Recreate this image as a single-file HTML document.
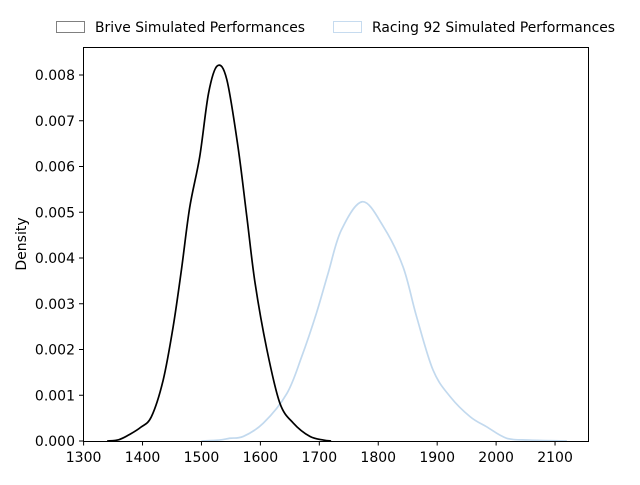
<!DOCTYPE html>
<html><head><meta charset="utf-8"><style>
body{margin:0;background:#fff;font-family:"Liberation Sans","DejaVu Sans",sans-serif;}
svg text{font-family:"DejaVu Sans","Liberation Sans",sans-serif;font-size:14px;fill:#000;}
</style></head><body>
<svg id="chart" width="640" height="480" viewBox="0 0 640 480">
<g id="legend">
<g>
<rect x="56.5" y="21.5" width="28" height="11" fill="#fff" stroke="#808080"/>
<text x="95" y="32" textLength="210" lengthAdjust="spacingAndGlyphs">Brive Simulated Performances</text></g>
<g>
<rect x="333.5" y="21.5" width="28" height="11" fill="#fff" stroke="#c6dbef"/>
<text x="372" y="32" textLength="243" lengthAdjust="spacingAndGlyphs">Racing 92 Simulated Performances</text></g>
</g>
<g id="plot"></g>
<rect x="83.5" y="47.5" width="505" height="394" fill="none" stroke="#000"/>
<text transform="translate(26,244) rotate(-90)" text-anchor="middle">Density</text>
</svg>
<script>
const xTicks=[1300,1400,1500,1600,1700,1800,1900,2000,2100];
const yTicks=[0,0.001,0.002,0.003,0.004,0.005,0.006,0.007,0.008];
const yTickLabels=["0.000","0.001","0.002","0.003","0.004","0.005","0.006","0.007","0.008"];
const briveX=[1340,1360,1379,1397,1415,1435,1452,1466,1480,1497,1512,1527,1543,1562,1577,1591,1611,1633,1656,1684,1707,1720];
const briveY=[0,0.00003,0.00015,0.0003,0.00053,0.00133,0.0025,0.00374,0.0051,0.00621,0.0076,0.0082,0.0079,0.00643,0.0049,0.00345,0.002,0.00083,0.00039,0.0001,0.00002,0];
const racingX=[1500,1530,1548,1571,1605,1645,1670,1695,1715,1737,1773,1809,1842,1865,1893,1922,1956,1984,2018,2057,2120];
const racingY=[0,0.00002,0.00006,0.0001,0.00039,0.00104,0.00184,0.00279,0.00367,0.0046,0.00523,0.00468,0.00381,0.00272,0.00155,0.00097,0.00053,0.00031,0.00006,0.00002,0];
const X=v=>83.6+(v-1300)*0.5893;
const Y=v=>441-v*45750;
const NS="http://www.w3.org/2000/svg";
const g=document.getElementById('plot');
function mk(t,a){const e=document.createElementNS(NS,t);for(const k in a)e.setAttribute(k,a[k]);g.appendChild(e);return e;}
function smooth(xs,ys){let p=xs.map((x,i)=>[X(x),Y(ys[i])]);let d="M"+p[0][0]+","+p[0][1];
for(let i=0;i<p.length-1;i++){const p0=p[i-1]||p[i],p1=p[i],p2=p[i+1],p3=p[i+2]||p2;
d+=" C"+(p1[0]+(p2[0]-p0[0])/6)+","+(p1[1]+(p2[1]-p0[1])/6)+" "+(p2[0]-(p3[0]-p1[0])/6)+","+(p2[1]-(p3[1]-p1[1])/6)+" "+p2[0]+","+p2[1];}return d;}
xTicks.forEach(v=>{const l=mk('line',{x1:X(v),x2:X(v),y1:441,y2:445.5,stroke:'#000'});

const t=mk('text',{x:X(v),y:462,'text-anchor':'middle'});t.textContent=v;
});
yTicks.forEach((v,i)=>{const l=mk('line',{x1:79,x2:83.5,y1:Y(v),y2:Y(v),stroke:'#000'});

const t=mk('text',{x:75,y:Y(v)+5,'text-anchor':'end'});t.textContent=yTickLabels[i];
});
const r=mk('path',{d:smooth(racingX,racingY),fill:'none',stroke:'#c2d9ee',"stroke-width":1.7});

const b=mk('path',{d:smooth(briveX,briveY),fill:'none',stroke:'#000',"stroke-width":1.7});

</script>
</body></html>
